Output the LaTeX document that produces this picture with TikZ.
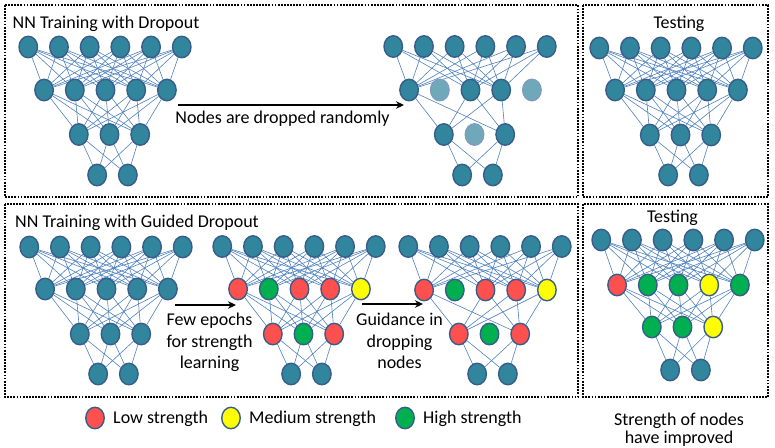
\documentclass[tikz,border=0pt]{standalone}
\usepackage{fontspec}
\setmainfont{Carlito}
\usetikzlibrary{shapes.geometric,arrows.meta,backgrounds}
\definecolor{tl}{HTML}{31859C}
\definecolor{bd}{HTML}{385D8A}
\definecolor{dp}{HTML}{6FA9B9}
\definecolor{dpb}{HTML}{7E9CC0}
\definecolor{rd}{HTML}{FF5050}
\definecolor{gr}{HTML}{00B050}
\definecolor{yl}{HTML}{FFFF00}
\definecolor{edgeblue}{HTML}{4F81BD}
\newcommand\nlayer[4]{%
  \foreach \fc/\dc [count=\i] in {#4} {\node[nn, fill=\fc, draw=\dc] (#1-\i) at ({#2+(\i-1)*30.7}, #3) {};}}
\newcommand\nlinks[4]{%
  \foreach \a in {#2} {\foreach \b in {#4} {\draw[edge] (#1-\a) -- (#3-\b);}}}
\newcommand\tnet[8]{%
  \nlayer{#1a}{#2-76.75}{#3}{tl/bd,tl/bd,tl/bd,tl/bd,tl/bd,tl/bd}
  \nlayer{#1b}{#2+0.5-61.4}{#4}{#7}
  \nlayer{#1c}{#2+4.5-30.7}{#5}{#8}
  \nlayer{#1d}{#2+7.5-15.35}{#6}{tl/bd,tl/bd}}
\newcommand\tlinks[3]{%
  \nlinks{#1a}{1,...,6}{#1b}{#2}
  \nlinks{#1b}{#2}{#1c}{#3}
  \nlinks{#1c}{#3}{#1d}{1,2}}
\begin{document}
\begin{tikzpicture}[x=1pt,y=-1pt,
  nn/.style={ellipse, minimum width=18.5pt, minimum height=21.5pt, inner sep=0pt, line width=1.4pt},
  edge/.style={draw=edgeblue, line width=0.6pt},
  frame/.style={line width=1.8pt, dash pattern=on 1.8pt off 1.3pt},
  arr/.style={line width=1.8pt, -{Stealth[length=8pt,width=7.5pt]}},
  lbl/.style={font=\fontsize{18}{21.5}\selectfont, inner sep=0pt},
]
\useasboundingbox (0,0) rectangle (775,447);
\draw[frame] (5,5) rectangle (578,197);
\draw[frame] (583,5) rectangle (768,197);
\draw[frame] (5,204) rectangle (578,397);
\draw[frame] (583,204) rectangle (768,397);

\tnet{A}{105}{47}{90}{134.5}{175}{tl/bd,tl/bd,tl/bd,tl/bd,tl/bd}{tl/bd,tl/bd,tl/bd}
\tnet{B}{470}{46.5}{90}{134.5}{175}{tl/bd,dp/dpb,tl/bd,tl/bd,dp/dpb}{tl/bd,dp/dpb,tl/bd}
\tnet{C}{676}{48}{90}{135}{175}{tl/bd,tl/bd,tl/bd,tl/bd,tl/bd}{tl/bd,tl/bd,tl/bd}
\tnet{D}{106}{247}{289}{334}{374}{tl/bd,tl/bd,tl/bd,tl/bd,tl/bd}{tl/bd,tl/bd,tl/bd}
\tnet{E}{299}{246.5}{289}{334}{374}{rd/bd,gr/bd,rd/bd,rd/bd,yl/bd}{rd/bd,gr/bd,rd/bd}
\tnet{F}{485}{246.5}{290}{334}{374}{rd/bd,gr/bd,rd/bd,rd/bd,yl/bd}{rd/bd,gr/bd,rd/bd}
\tnet{G}{678}{240}{285}{327}{370}{rd/bd,gr/bd,gr/bd,yl/bd,gr/bd}{gr/bd,gr/bd,yl/bd}

\begin{pgfonlayer}{background}
\tlinks{A}{1,...,5}{1,2,3}
\tlinks{B}{1,3,4}{1,3}
\tlinks{C}{1,...,5}{1,2,3}
\tlinks{D}{1,...,5}{1,2,3}
\tlinks{E}{1,...,5}{1,2,3}
\tlinks{F}{1,3,4,5}{1,3}
\tlinks{G}{1,...,5}{1,2,3}
\end{pgfonlayer}

\node[lbl, anchor=base west] (t1) at (12.5,28) {NN Training with Dropout};
\node[lbl, anchor=base] (t2) at (679,28) {Testing};
\node[lbl, anchor=base west] (t3) at (15,227) {NN Training with Guided Dropout};
\node[lbl, anchor=base] (t4) at (672.5,222) {Testing};
\node[lbl, anchor=base] (t5) at (282.5,123.5) {Nodes are dropped randomly};
\node[lbl, anchor=base, align=center] (t6) at (209.5,368.5) {Few epochs\\for strength\\learning};
\node[lbl, anchor=base, align=center] (t7) at (399.5,368.5) {Guidance in\\dropping\\nodes};
\node[lbl, anchor=base, align=center, font=\fontsize{18}{18}\selectfont] (t8) at (679,443) {Strength of nodes\\have improved};

\coordinate (a1s) at (178,105);
\coordinate (a1e) at (404,105);
\coordinate (a2s) at (175,305);
\coordinate (a2e) at (236,305);
\coordinate (a3s) at (362,304);
\coordinate (a3e) at (423,304);
\draw[arr] (a1s) -- (a1e);
\draw[arr] (a2s) -- (a2e);
\draw[arr] (a3s) -- (a3e);

\node[nn, fill=rd, draw=bd] (lr) at (95,418) {};
\node[lbl, anchor=base west] (lrt) at (113,423.5) {Low strength};
\node[nn, fill=yl, draw=bd] (ly) at (231,418) {};
\node[lbl, anchor=base west] (lyt) at (249,423.5) {Medium strength};
\node[nn, fill=gr, draw=bd] (lg) at (405,418) {};
\node[lbl, anchor=base west] (lgt) at (423,423.5) {High strength};
\end{tikzpicture}
\end{document}
